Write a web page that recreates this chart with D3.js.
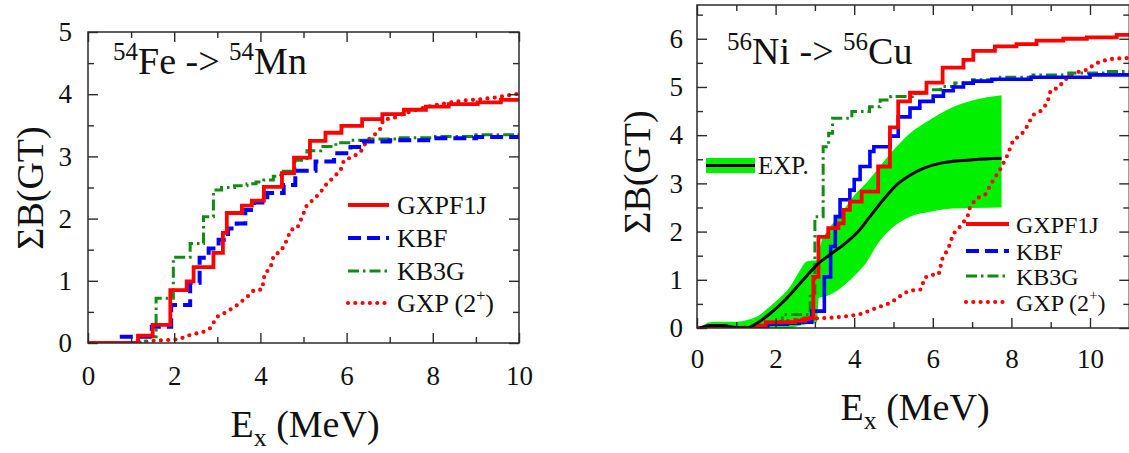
<!DOCTYPE html>
<html><head><meta charset="utf-8">
<script src="https://cdn.jsdelivr.net/npm/d3@7"></script>
<style>
html,body{margin:0;padding:0;background:#fff;}
svg{display:block;}
</style></head>
<body><svg id="c" width="1129" height="453"></svg>
<script>
// ---------- DATA (E in MeV, cumulative B(GT)) ----------
// Left panel: 54Fe -> 54Mn
const feGXPF1J = [[0,0],[1.16,0.12],[1.5,0.29],[1.91,0.85],[2.29,0.99],[2.45,1.22],[2.91,1.45],[3.13,1.77],[3.22,2.09],[3.57,2.21],[3.8,2.29],[4.08,2.51],[4.5,2.73],[4.78,2.98],[5.15,3.25],[5.51,3.38],[5.88,3.49],[6.36,3.6],[6.83,3.68],[7.33,3.75],[7.84,3.8],[8.37,3.84],[9.04,3.87],[9.58,3.91],[10,3.91]];
const feKBF = [[0,0],[0.7,0.1],[1.48,0.26],[1.93,0.61],[2.37,0.97],[2.59,1.37],[2.8,1.52],[3.03,1.66],[3.25,1.84],[3.45,1.92],[3.65,2.14],[3.85,2.26],[4.16,2.41],[4.54,2.54],[4.81,2.77],[5.28,2.92],[5.71,3.05],[6.09,3.15],[6.36,3.24],[7.0,3.26],[8,3.29],[9,3.31],[10,3.34]];
const feKB3G = [[0,0],[1.33,0.1],[1.58,0.72],[1.98,1.38],[2.37,1.6],[2.68,2.03],[2.91,2.46],[3.1,2.5],[3.4,2.53],[3.69,2.56],[3.9,2.59],[4.08,2.62],[4.3,2.68],[4.47,2.76],[4.8,2.94],[5.08,3.09],[5.4,3.16],[5.75,3.22],[6.1,3.26],[6.6,3.28],[7.2,3.3],[8,3.32],[9,3.35],[10,3.38]];
const feGXP2 = [[0,0],[0.5,0],[1.0,0],[1.29,0.02],[1.6,0.04],[1.91,0.05],[2.1,0.06],[2.37,0.13],[2.68,0.18],[2.84,0.24],[2.99,0.42],[3.22,0.5],[3.46,0.61],[3.69,0.74],[3.85,0.85],[4.04,0.86],[4.1,1.12],[4.23,1.2],[4.31,1.41],[4.47,1.47],[4.62,1.66],[4.7,1.82],[4.85,1.84],[4.97,2.03],[5.08,2.22],[5.24,2.31],[5.4,2.43],[5.55,2.57],[5.71,2.67],[5.86,2.78],[5.94,2.94],[6.17,3.0],[6.33,3.08],[6.48,3.26],[6.64,3.34],[6.79,3.45],[6.85,3.59],[7.1,3.62],[7.33,3.69],[7.64,3.75],[7.88,3.8],[8.26,3.85],[8.73,3.9],[9.12,3.92],[9.5,3.95],[9.81,3.99],[10,4.01]];

// Right panel: 56Ni -> 56Cu
const niGXPF1J = [[0,0],[1.5,0.05],[1.75,0.12],[2.5,0.15],[2.75,0.2],[2.96,1.06],[3.09,1.89],[3.34,2.07],[3.6,2.17],[3.73,2.45],[3.89,2.62],[4.19,2.83],[4.61,3.35],[4.91,4.16],[5.12,4.7],[5.42,4.88],[5.84,5.09],[6.25,5.4],[6.78,5.56],[7.03,5.75],[7.58,5.84],[8.13,5.89],[8.64,5.96],[9.32,6.0],[9.92,6.03],[10.68,6.08],[11,6.1]];
const niKBF = [[0,0],[1.5,0.03],[1.8,0.08],[2.3,0.1],[2.6,0.12],[2.92,0.35],[3.24,1.06],[3.4,1.69],[3.52,2.31],[3.64,2.66],[3.89,2.86],[4.0,3.08],[4.15,3.35],[4.4,3.66],[4.5,3.76],[4.91,3.98],[5.12,4.38],[5.42,4.56],[5.67,4.7],[6.01,4.81],[6.27,4.92],[6.52,5.0],[6.78,5.08],[7.03,5.12],[7.5,5.16],[8.5,5.2],[10,5.25],[11,5.27]];
const niKB3G = [[0,0],[1.5,0.05],[1.8,0.1],[2.17,0.28],[2.88,0.72],[3.0,2.31],[3.21,3.76],[3.35,4.04],[3.45,4.35],[3.94,4.49],[4.39,4.59],[4.66,4.73],[4.93,4.8],[5.48,4.87],[5.84,4.94],[6.2,5.01],[6.56,5.08],[7.01,5.15],[7.6,5.2],[8.55,5.25],[9.46,5.29],[10.4,5.32],[11,5.32]];
const niGXP2 = [[0.1,0],[0.5,0],[1.0,0],[1.5,0.02],[1.94,0.1],[2.37,0.15],[2.88,0.2],[3.13,0.2],[3.55,0.22],[4.06,0.27],[4.21,0.3],[4.57,0.42],[4.93,0.52],[5.11,0.63],[5.38,0.77],[5.7,0.8],[5.79,1.04],[5.93,1.1],[6.15,1.11],[6.24,1.43],[6.4,1.66],[6.52,1.95],[6.69,2.1],[6.88,2.3],[6.95,2.52],[7.12,2.69],[7.33,2.76],[7.54,3.07],[7.71,3.28],[7.88,3.55],[8.05,3.9],[8.24,4.0],[8.37,4.14],[8.55,4.42],[8.73,4.49],[8.91,4.66],[9.0,4.93],[9.19,4.98],[9.32,5.11],[9.5,5.25],[9.73,5.32],[9.95,5.36],[10.09,5.46],[10.27,5.53],[10.54,5.58],[10.86,5.6],[11,5.6]];
// Experiment: central curve and error band
const expCurve = [[0.08,0],[0.33,0.05],[0.67,0.05],[1.0,0.01],[1.26,0],[1.52,0.1],[1.86,0.3],[2.2,0.55],[2.54,0.85],[2.79,1.08],[3.05,1.31],[3.38,1.52],[3.75,1.74],[4.1,2.0],[4.4,2.31],[4.74,2.66],[5.08,2.97],[5.42,3.17],[5.76,3.31],[6.27,3.43],[7.03,3.49],[7.75,3.52]];
const bandE    = [0.08,0.33,0.67,1.0,1.3,1.55,1.86,2.1,2.37,2.62,2.79,3.0,3.05,3.1,3.15,3.35,3.64,4.0,4.3,4.6,5.0,5.42,5.93,6.5,7.0,7.75];
const bandHigh = [0,0.12,0.13,0.13,0.17,0.25,0.45,0.62,0.86,1.2,1.38,1.4,1.4,1.55,1.75,2.05,2.35,2.75,3.0,3.3,3.69,4.04,4.32,4.58,4.72,4.83];
const bandLow  = [0,0,0,0,0,0,0,0,0,0.05,0.08,0.1,0.12,0.63,0.64,0.68,0.82,1.08,1.35,1.75,2.1,2.31,2.41,2.48,2.49,2.5];

const xTicksMajorL = [0,2,4,6,8,10], xTicksMinorL = [1,3,5,7,9];
const yTicksMajorL = [0,1,2,3,4,5], yTicksMinorL = [0.5,1.5,2.5,3.5,4.5];
const xTicksMajorR = [0,2,4,6,8,10], xTicksMinorR = [1,3,5,7,9,11];
const yTicksMajorR = [0,1,2,3,4,5,6], yTicksMinorR = [0.5,1.5,2.5,3.5,4.5,5.5,6.5];
const legendNames = ["GXPF1J","KBF","KB3G","GXP (2"];

// ---------- STYLES ----------
const RED = "#ff0000", BLUE = "#0000ff", GREEN = "#138a13", LIME = "#00f000";
const SERIF = "Liberation Serif";
const styles = {
  gxpf1j:{stroke:RED,width:3.8,dash:null,cap:"butt"},
  kbfL:{stroke:BLUE,width:4,dash:"13,6",cap:"butt"},
  kbfR:{stroke:BLUE,width:3.6,dash:null,cap:"butt"},
  kb3g:{stroke:GREEN,width:3,dash:"11,4,2.5,4",cap:"butt"},
  gxp2:{stroke:RED,width:4.2,dash:"0,7.3",cap:"round"}
};

const svg = d3.select("#c");
const FRAME = "#2b2b2b";

function txt(sel){ return sel.style("font-family",SERIF).attr("fill","#111"); }

function panel(opt){
  const {x,y,id} = opt;
  const g = svg.append("g");
  const [x0,x1] = x.range(), [y0,y1] = y.range();
  g.append("clipPath").attr("id",id).append("rect")
    .attr("x",x0).attr("y",y1).attr("width",x1-x0).attr("height",y0-y1);
  const plot = g.append("g").attr("clip-path",`url(#${id})`);
  const mk = (axis, major, minor, trans, pad, labels) => {
    const a = g.append("g").attr("transform",trans)
      .call(axis.tickValues(major).tickSize(-10).tickPadding(pad).tickFormat(labels?d3.format("d"):""));
    const b = g.append("g").attr("transform",trans)
      .call(axis.tickValues(minor).tickSize(-6).tickFormat(""));
    [a,b].forEach(s=>{s.attr("font-family",null); s.select(".domain").remove(); s.selectAll("line").attr("stroke",FRAME).attr("stroke-width",1.4);});
    txt(a.selectAll("text")).attr("font-size",opt.tickFont);
    return a;
  };
  mk(d3.axisBottom(x), opt.xMajor, opt.xMinor, `translate(0,${y0})`, opt.xPad, true);
  mk(d3.axisTop(x), opt.xMajor, opt.xMinor, `translate(0,${y1})`, 0, false);
  mk(d3.axisLeft(y), opt.yMajor, opt.yMinor, `translate(${x0},0)`, opt.yPad, true);
  mk(d3.axisRight(y), opt.yMajor, opt.yMinor, `translate(${x1},0)`, 0, false);
  g.append("rect").attr("x",x0).attr("y",y1).attr("width",x1-x0).attr("height",y0-y1)
    .attr("fill","none").attr("stroke",FRAME).attr("stroke-width",1.5);
  return {g,plot};
}

function drawLine(plot, data, x, y, st, curve){
  const line = d3.line().x(d=>x(d[0])).y(d=>y(d[1])).curve(curve);
  const p = plot.append("path").datum(data).attr("d",line).attr("fill","none")
    .attr("stroke",st.stroke).attr("stroke-width",st.width).attr("stroke-linecap",st.cap).attr("stroke-linejoin","miter");
  if(st.dash) p.attr("stroke-dasharray",st.dash);
  return p;
}

function legend(g, x0, x1, tx, rows, fs){
  const sts = [styles.gxpf1j, styles.kbfL, styles.kb3g, styles.gxp2];
  rows.forEach((yy,i)=>{
    const st = sts[i];
    const l = g.append("line").attr("x1",x0).attr("x2",x1).attr("y1",yy).attr("y2",yy)
      .attr("stroke",st.stroke).attr("stroke-width",st.width).attr("stroke-linecap",st.cap);
    if(st.dash) l.attr("stroke-dasharray",st.dash);
    const t = txt(g.append("text")).attr("x",tx).attr("y",yy+9).attr("font-size",fs).text(legendNames[i]);
    if(i===3){
      t.append("tspan").attr("dy",-11).attr("font-size",fs*0.62).text("+");
      t.append("tspan").attr("dy",11).text(")");
    }
  });
}

function title(g, x, yb, a, el1, b, el2){
  const t = txt(g.append("text")).attr("x",x).attr("y",yb).attr("font-size",38);
  t.append("tspan").attr("font-size",25).attr("dy",-14).text(a);
  t.append("tspan").attr("dy",14).text(el1 + " -> ");
  t.append("tspan").attr("font-size",25).attr("dy",-14).text(b);
  t.append("tspan").attr("dy",14).text(el2);
}

function axisLabels(g, xl, yl){
  const t = txt(g.append("text")).attr("x",xl[0]).attr("y",xl[1]).attr("text-anchor","middle").attr("font-size",38);
  t.append("tspan").text("E");
  t.append("tspan").attr("font-size",26).attr("dy",9).text("x");
  t.append("tspan").attr("dy",-9).text(" (MeV)");
  txt(g.append("text")).attr("transform",`translate(${yl[0]},${yl[1]}) rotate(-90)`)
    .attr("text-anchor","middle").attr("font-size",38).text("ΣB(GT)");
}

// ---------- LEFT PANEL ----------
const xL = d3.scaleLinear().domain([0,10]).range([88,519]);
const yL = d3.scaleLinear().domain([0,5]).range([343,32]);
const L = panel({x:xL,y:yL,id:"clipL",xMajor:xTicksMajorL,xMinor:xTicksMinorL,yMajor:yTicksMajorL,yMinor:yTicksMinorL,xPad:23,yPad:16,tickFont:27});
drawLine(L.plot, feGXP2, xL, yL, styles.gxp2, d3.curveLinear);
drawLine(L.plot, feKB3G, xL, yL, styles.kb3g, d3.curveStepAfter);
drawLine(L.plot, feKBF, xL, yL, styles.kbfL, d3.curveStepAfter);
drawLine(L.plot, feGXPF1J, xL, yL, styles.gxpf1j, d3.curveStepAfter);
legend(L.g, 348, 389, 397, [205,238,271,303], 26);
title(L.g, 113, 74, "54", "Fe", "54", "Mn");
axisLabels(L.g, [305,437], [43,188]);

// ---------- RIGHT PANEL ----------
const xR = d3.scaleLinear().domain([0,11]).range([697,1129.3]);
const yR = d3.scaleLinear().domain([0,6.7]).range([328,5]);
const R = panel({x:xR,y:yR,id:"clipR",xMajor:xTicksMajorR,xMinor:xTicksMinorR,yMajor:yTicksMajorR,yMinor:yTicksMinorR,xPad:21,yPad:14,tickFont:27});
const band = bandE.map((e,i)=>({e,lo:bandLow[i],hi:bandHigh[i]}));
R.plot.append("path").datum(band)
  .attr("d", d3.area().x(d=>xR(d.e)).y0(d=>yR(d.lo)).y1(d=>yR(d.hi)).curve(d3.curveMonotoneX))
  .attr("fill",LIME).attr("stroke","none");
drawLine(R.plot, niGXP2, xR, yR, styles.gxp2, d3.curveLinear);
drawLine(R.plot, niKB3G, xR, yR, styles.kb3g, d3.curveStepAfter);
drawLine(R.plot, niKBF, xR, yR, styles.kbfR, d3.curveStepAfter);
drawLine(R.plot, niGXPF1J, xR, yR, styles.gxpf1j, d3.curveStepAfter);
drawLine(R.plot, expCurve, xR, yR, {stroke:"#000",width:3,dash:null,cap:"butt"}, d3.curveMonotoneX);
// EXP legend
R.g.append("rect").attr("x",706).attr("y",158).attr("width",49).attr("height",15).attr("fill",LIME);
R.g.append("line").attr("x1",706).attr("x2",755).attr("y1",165.5).attr("y2",165.5).attr("stroke","#000").attr("stroke-width",3);
txt(R.g.append("text")).attr("x",758).attr("y",174).attr("font-size",25).text("EXP.");
legend(R.g, 966, 1009, 1016, [224,251,276,302], 24);
title(R.g, 727, 64, "56", "Ni", "56", "Cu");
axisLabels(R.g, [915,420], [650,172]);
</script></body></html>
